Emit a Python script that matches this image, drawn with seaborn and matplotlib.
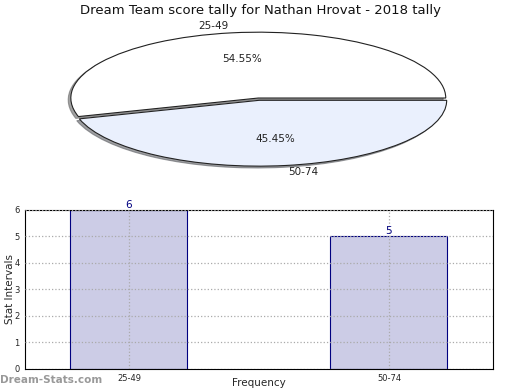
import matplotlib
matplotlib.use("Agg")
import matplotlib.pyplot as plt
import seaborn as sns
import pandas as pd

categories = ["25-49", "50-74"]
counts = [6, 5]
title = "Dream Team score tally for Nathan Hrovat - 2018 tally"

sns.set_theme(style="white")
plt.rcParams['font.family'] = ['DejaVu Sans']

fig = plt.figure(figsize=(5.2, 3.9), dpi=100)

# Pie (squashed ellipse)
axp = fig.add_axes([0.138, 0.574, 0.721, 0.341])
wedges, texts, autotexts = axp.pie(
    counts, labels=categories, explode=[0.035, 0],
    shadow={'ox': -0.01, 'oy': -0.02, 'shade': 0.6, 'alpha': 0.6},
    startangle=0, counterclock=True, colors=["#ffffff", "#eaf0fd"],
    autopct="%1.2f%%", pctdistance=0.6, labeldistance=1.1,
    wedgeprops=dict(edgecolor="#222222", linewidth=0.8),
    textprops=dict(fontsize=7.5, color="#222222"))
axp.set_aspect("auto")
axp.set_xlim(-1.0, 1.0)
axp.set_ylim(-1.0, 1.02)
axp.axis("off")

fig.text(0.5, 0.972, title, ha="center", va="center", fontsize=9.5, color="#111111")

# Bar chart
axb = fig.add_axes([0.048, 0.054, 0.9, 0.408])
df = pd.DataFrame({"cat": categories, "val": counts})
sns.barplot(data=df, x="cat", y="val", ax=axb, color="#ccccE6", saturation=1,
            edgecolor="#000080", linewidth=0.8, width=0.45)
axb.set_xlim(-0.4, 1.4)
axb.set_ylim(0, 6)
axb.set_yticks(range(0, 7))
axb.grid(True, linestyle=":", color="#aaaaaa", linewidth=0.9)
axb.set_axisbelow(False)
for p in axb.patches:
    p.set_zorder(1)
axb.tick_params(axis="both", labelsize=6, length=2, direction="out", pad=2)
for s in axb.spines.values():
    s.set_color("#000000")
    s.set_linewidth(0.8)
axb.set_ylabel("Stat Intervals", fontsize=7.5)
axb.set_xlabel("Frequency", fontsize=7.5)
axb.yaxis.set_label_coords(-0.022, 0.5)
axb.xaxis.set_label_coords(0.5, -0.058)
for i, v in enumerate(counts):
    axb.text(i, v, str(v), ha="center", va="bottom", fontsize=7.5, color="#000080")

fig.text(0.0, 0.025, "Dream-Stats.com", ha="left", va="center", fontsize=7.5,
         color="#999999", fontweight="bold")

fig.savefig("out.png", dpi=100)
